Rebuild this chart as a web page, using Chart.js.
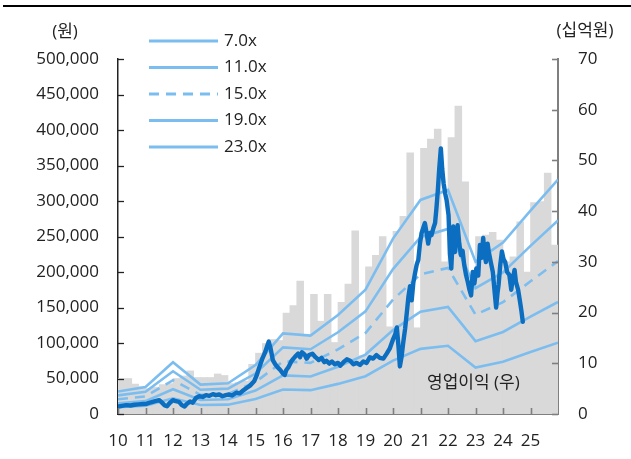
<!DOCTYPE html>
<html>
<head>
<meta charset="utf-8">
<script src="https://cdn.jsdelivr.net/npm/chart.js@4.4.0/dist/chart.umd.min.js"></script>
<style>
  html, body { margin: 0; padding: 0; background: #fff; }
  #wrap { width: 631px; height: 459px; position: relative; }
</style>
</head>
<body>
<div id="wrap"><canvas id="perChart" width="631" height="459"></canvas></div>
<script>
// quarterly operating profit (십억원), 2010 Q1 .. 2025 Q4
const opProfit = [
  7.0, 7.0, 5.9, 5.4,
  5.0, 5.3, 5.8, 6.0,
  7.0, 7.5, 8.5, 7.2,
  7.2, 7.2, 7.9, 7.6,
  6.0, 6.2, 6.5, 9.8,
  12.0, 13.9, 14.7, 14.5,
  19.9, 21.4, 26.2, 15.5,
  23.6, 18.3, 23.6, 14.1,
  22.0, 25.6, 36.1, 11.5,
  29.0, 31.3, 35.0, 17.2,
  36.0, 39.0, 51.5, 17.0,
  52.4, 54.2, 56.2, 30.0,
  54.5, 60.7, 45.8, 25.0,
  35.0, 35.3, 35.8, 34.3,
  30.0, 31.0, 37.9, 28.0,
  41.7, 41.9, 47.5, 33.3
];
const firstYear = 2010;

// PER band points (원), one per year start
const bandYears = [2010, 2011, 2012, 2013, 2014, 2015, 2016, 2017, 2018, 2019, 2020, 2021, 2022, 2023, 2024, 2025, 2026];
const band7 = [9660, 11550, 22190, 12600, 13160, 21000, 34580, 33600, 42420, 53270, 75180, 91770, 96040, 65310, 73500, 87220, 100450];
const band11 = [15180, 18150, 34870, 19800, 20680, 33000, 54340, 52800, 66660, 83710, 118140, 144210, 150920, 102630, 115500, 137060, 157850];
const band15 = [20700, 24750, 47550, 27000, 28200, 45000, 74100, 72000, 90900, 114150, 161100, 196650, 205800, 139950, 157500, 186900, 215250];
const band19 = [26220, 31350, 60230, 34200, 35720, 57000, 93860, 91200, 115140, 144590, 204060, 249090, 260680, 177270, 199500, 236740, 272650];
const band23 = [31740, 37950, 72910, 41400, 43240, 69000, 113620, 110400, 139380, 175030, 247020, 301530, 315560, 214590, 241500, 286580, 330050];
const bandLabels = ['7.0x', '11.0x', '15.0x', '19.0x', '23.0x'];

// share price (원)
const priceDates = [
  2010.00, 2010.15, 2010.30, 2010.45, 2010.60, 2010.75, 2010.90, 2011.05, 2011.20, 2011.35,
  2011.50, 2011.60, 2011.70, 2011.78, 2011.88, 2012.00, 2012.10, 2012.22, 2012.32, 2012.42,
  2012.50, 2012.62, 2012.72, 2012.84, 2012.95, 2013.08, 2013.20, 2013.32, 2013.45, 2013.56,
  2013.68, 2013.80, 2013.92, 2014.04, 2014.15, 2014.30, 2014.42, 2014.55, 2014.65, 2014.80,
  2014.95, 2015.05, 2015.14, 2015.25, 2015.34, 2015.42, 2015.48, 2015.55, 2015.63, 2015.72,
  2015.80, 2015.90, 2016.00, 2016.06, 2016.12, 2016.20, 2016.30, 2016.38, 2016.47, 2016.55,
  2016.62, 2016.69, 2016.78, 2016.86, 2016.95, 2017.07, 2017.18, 2017.30, 2017.40, 2017.50,
  2017.58, 2017.68, 2017.78, 2017.88, 2018.00, 2018.08, 2018.20, 2018.32, 2018.44, 2018.56,
  2018.68, 2018.80, 2018.92, 2019.04, 2019.16, 2019.28, 2019.40, 2019.52, 2019.65, 2019.77,
  2019.88, 2019.99, 2020.08, 2020.14, 2020.20, 2020.25, 2020.31, 2020.37, 2020.44, 2020.50,
  2020.56, 2020.62, 2020.68, 2020.74, 2020.80, 2020.86, 2020.92, 2020.98, 2021.04, 2021.10,
  2021.16, 2021.22, 2021.28, 2021.34, 2021.40, 2021.47, 2021.53, 2021.58, 2021.63, 2021.68,
  2021.74, 2021.79, 2021.84, 2021.90, 2021.95, 2022.02, 2022.07, 2022.12, 2022.19, 2022.25,
  2022.30, 2022.35, 2022.41, 2022.47, 2022.53, 2022.59, 2022.66, 2022.72, 2022.78, 2022.84,
  2022.90, 2022.96, 2023.03, 2023.10, 2023.16, 2023.22, 2023.28, 2023.33, 2023.38, 2023.44,
  2023.48, 2023.55, 2023.63, 2023.70, 2023.75, 2023.80, 2023.84, 2023.90, 2023.96, 2024.02,
  2024.08, 2024.15, 2024.23, 2024.30, 2024.35, 2024.42, 2024.47, 2024.55, 2024.62, 2024.67,
  2024.72
];
const priceValues = [
  10500, 11500, 12500, 12000, 13000, 13500, 14000, 14500, 16500, 18000,
  19500, 16000, 12000, 11000, 15500, 19500, 18000, 17000, 12500, 10500,
  14000, 17500, 16000, 23000, 25000, 24000, 26500, 25500, 28000, 26500,
  27500, 25000, 26500, 27500, 26000, 30000, 29000, 33000, 36000, 40000,
  46000, 55000, 66000, 78000, 86000, 95000, 102000, 92000, 76000, 70000,
  66000, 62000, 57000, 55000, 62000, 66000, 74000, 78000, 82000, 85000,
  80000, 87000, 84000, 78000, 83000, 85000, 80000, 76000, 79000, 73000,
  75000, 71000, 74000, 70000, 72000, 68000, 73000, 77000, 75000, 70000,
  72000, 69000, 74000, 72000, 80000, 78000, 83000, 79000, 78000, 85000,
  92000, 104000, 112000, 122000, 95000, 67000, 80000, 100000, 120000, 142000,
  165000, 180000, 160000, 185000, 198000, 210000, 217000, 240000, 255000, 262000,
  269000, 255000, 240000, 255000, 252000, 262000, 269000, 290000, 315000, 345000,
  374000, 345000, 325000, 310000, 301000, 280000, 226000, 205000, 264000, 228000,
  250000, 266000, 240000, 224000, 230000, 210000, 195000, 186000, 175000, 167000,
  200000, 184000, 205000, 195000, 238000, 220000, 248000, 225000, 214000, 240000,
  229000, 215000, 200000, 170000, 150000, 170000, 182000, 210000, 229000, 218000,
  214000, 200000, 196000, 175000, 189000, 203000, 186000, 175000, 158000, 145000,
  130000
];

const leftTicks = [0, 50000, 100000, 150000, 200000, 250000, 300000, 350000, 400000, 450000, 500000];
const rightTicks = [0, 10, 20, 30, 40, 50, 60, 70];
const xTicks = [2010, 2011, 2012, 2013, 2014, 2015, 2016, 2017, 2018, 2019, 2020, 2021, 2022, 2023, 2024, 2025];

const LIGHT = '#7cbdf0';
const DARK = '#0b6ec0';
const TEXT = '#222222';
const FONT = "'Open Sans', 'Noto Sans CJK KR', sans-serif";

const bandSets = [band7, band11, band15, band19, band23].map((vals, i) => ({
  type: 'line',
  label: bandLabels[i],
  data: bandYears.map((yr, j) => ({ x: yr, y: vals[j] })),
  borderColor: LIGHT,
  borderWidth: 2.6,
  borderDash: i === 2 ? [10, 7] : [],
  pointRadius: 0,
  tension: 0,
  yAxisID: 'y',
  order: 1,
}));

const innerTicks = {
  id: 'innerTicks',
  afterDraw(chart) {
    const { ctx, chartArea, scales } = chart;
    ctx.save();
    ctx.lineWidth = 1.3;
    ctx.strokeStyle = TEXT;
    leftTicks.forEach(v => {
      const y = Math.round(scales.y.getPixelForValue(v)) + 0.5;
      ctx.beginPath();
      ctx.moveTo(chartArea.left, y);
      ctx.lineTo(chartArea.left + 6, y);
      ctx.stroke();
    });
    ctx.strokeStyle = '#7f7f7f';
    ctx.lineWidth = 1.6;
    rightTicks.forEach(v => {
      const y = Math.round(scales.y2.getPixelForValue(v)) + 0.5;
      ctx.beginPath();
      ctx.moveTo(chartArea.right - 6, y);
      ctx.lineTo(chartArea.right, y);
      ctx.stroke();
    });
    xTicks.forEach(v => {
      const x = Math.round(scales.x.getPixelForValue(v)) + 0.5;
      ctx.beginPath();
      ctx.moveTo(x, chartArea.bottom);
      ctx.lineTo(x, chartArea.bottom - 6);
      ctx.stroke();
    });

    // legend
    ctx.font = '17px ' + FONT;
    ctx.fillStyle = TEXT;
    ctx.textBaseline = 'middle';
    ctx.textAlign = 'left';
    bandLabels.forEach((lab, i) => {
      const y = 41 + i * 26.5;
      ctx.beginPath();
      ctx.strokeStyle = LIGHT;
      ctx.lineWidth = 2.8;
      ctx.setLineDash(i === 2 ? [10, 7] : []);
      ctx.moveTo(149, y);
      ctx.lineTo(218, y);
      ctx.stroke();
      ctx.setLineDash([]);
      ctx.fillText(lab, 224, y);
    });

    // unit labels
    ctx.textAlign = 'center';
    ctx.fillText('(원)', 65, 32);
    ctx.fillText('(십억원)', 585, 31);
    ctx.textAlign = 'left';
    ctx.fillText('영업이익 (우)', 427, 383);

    // top rule
    ctx.strokeStyle = '#000';
    ctx.lineWidth = 2;
    ctx.beginPath();
    ctx.moveTo(3, 6);
    ctx.lineTo(631, 6);
    ctx.stroke();
    ctx.restore();
  }
};

new Chart(document.getElementById('perChart'), {
  type: 'bar',
  data: {
    datasets: [
      {
        type: 'line',
        label: 'price',
        data: priceDates.map((d, i) => ({ x: d, y: priceValues[i] })),
        borderColor: DARK,
        borderWidth: 4.4,
        borderJoinStyle: 'round',
        borderCapStyle: 'round',
        pointRadius: 0,
        tension: 0,
        yAxisID: 'y',
        order: 0,
      },
      ...bandSets,
      {
        type: 'bar',
        label: '영업이익',
        data: opProfit.map((v, i) => ({ x: firstYear + (i + 0.5) / 4, y: v })),
        backgroundColor: '#d9d9d9',
        barPercentage: 1.0,
        categoryPercentage: 1.0,
        grouped: false,
        yAxisID: 'y2',
        order: 2,
      },
    ],
  },
  options: {
    responsive: false,
    animation: false,
    layout: { padding: { top: 59, left: 0, right: 0, bottom: 0 } },
    plugins: { legend: { display: false }, tooltip: { enabled: false } },
    scales: {
      x: {
        type: 'linear',
        min: 2010,
        max: 2026,
        offset: false,
        grid: { display: false, drawTicks: false },
        border: { color: '#7f7f7f', width: 2 },
        afterBuildTicks: s => { s.ticks = xTicks.map(v => ({ value: v })); },
        afterFit: s => { s.height = 45; },
        ticks: {
          padding: 17,
          autoSkip: false,
          maxRotation: 0,
          color: TEXT,
          font: { family: FONT, size: 17 },
          callback: v => String(v - 2000),
        },
      },
      y: {
        position: 'left',
        min: 0,
        max: 500000,
        grid: { display: false, drawTicks: false },
        border: { color: TEXT, width: 1.5 },
        afterBuildTicks: s => { s.ticks = leftTicks.map(v => ({ value: v })); },
        afterFit: s => { s.width = 118; },
        ticks: {
          padding: 19,
          color: TEXT,
          font: { family: FONT, size: 17 },
          callback: v => v.toLocaleString('en-US'),
        },
      },
      y2: {
        position: 'right',
        min: 0,
        max: 70,
        grid: { display: false, drawTicks: false },
        border: { color: '#7f7f7f', width: 2 },
        afterBuildTicks: s => { s.ticks = rightTicks.map(v => ({ value: v })); },
        afterFit: s => { s.width = 73; },
        ticks: {
          padding: 20,
          color: TEXT,
          font: { family: FONT, size: 17 },
        },
      },
    },
  },
  plugins: [innerTicks],
});
</script>
</body>
</html>
